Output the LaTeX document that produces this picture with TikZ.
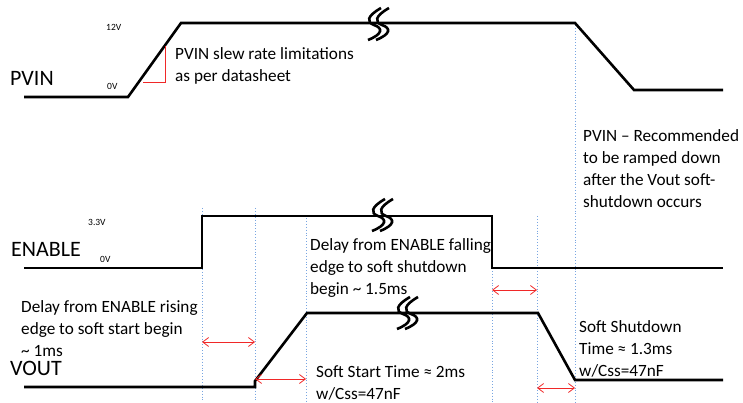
\documentclass[tikz,border=0pt]{standalone}
\usepackage{fontspec}
\setmainfont{Carlito}
\usetikzlibrary{arrows.meta}
\definecolor{guideblue}{RGB}{120,165,225}
\definecolor{dimred}{RGB}{240,40,40}
\begin{document}
\begin{tikzpicture}[x=1pt,y=-1pt,
  wave/.style={line width=2.6pt, line join=miter},
  guide/.style={draw=guideblue, dotted, line width=0.9pt},
  dim/.style={draw=dimred, line width=0.8pt, {Straight Barb[length=6pt,width=9pt]}-{Straight Barb[length=6pt,width=9pt]}},
  note/.style={anchor=north west, inner sep=0pt, align=left, font=\fontsize{17.2}{22}\selectfont},
  sig/.style={anchor=north west, inner sep=0pt, font=\fontsize{22}{25}\selectfont},
  lvl/.style={anchor=north west, inner sep=0pt, font=\fontsize{9.5}{11}\selectfont},
  brkpic/.pic={
    \draw[line width=2.6pt] (4,-16) .. controls (-10,-8) and (-11,-2) .. (-3,1) .. controls (6,4) and (6,10) .. (-9,16);
    \draw[line width=2.6pt] (12,-16) .. controls (-2,-8) and (-3,-2) .. (5,1) .. controls (14,4) and (14,10) .. (-1,16);
  }]
\useasboundingbox (0,0) rectangle (743,403);

% guide lines (behind)
\coordinate (g1t) at (202,208); \coordinate (g1b) at (202,400);
\coordinate (g2t) at (255,208); \coordinate (g2b) at (255,400);
\coordinate (g3t) at (306,218); \coordinate (g3b) at (306,403);
\coordinate (g4t) at (492,268); \coordinate (g4b) at (492,403);
\coordinate (g5t) at (537,216); \coordinate (g5b) at (537,403);
\coordinate (g6t) at (575,25);  \coordinate (g6b) at (575,403);
\draw[guide] (g1t) -- (g1b);
\draw[guide] (g2t) -- (g2b);
\draw[guide] (g3t) -- (g3b);
\draw[guide] (g4t) -- (g4b);
\draw[guide] (g5t) -- (g5b);
\draw[guide] (g6t) -- (g6b);

% PVIN waveform
\coordinate (p0) at (24,97);
\coordinate (p1) at (128,97);
\coordinate (p2) at (181,23);
\coordinate (p3) at (575,23);
\coordinate (p4) at (634,90);
\coordinate (p5) at (723,90);
\draw[wave] (p0) -- (p1) -- (p2) -- (p3) -- (p4) -- (p5);
\pic at (377,24) {brkpic};

% slew-rate marker
\coordinate (r1) at (165.5,46);
\coordinate (r2) at (165.5,82);
\coordinate (r3) at (143,82);
\draw[dimred, line width=0.9pt] (r1) -- (r2) -- (r3);

% ENABLE waveform
\coordinate (e0) at (24,268);
\coordinate (e1) at (202,268);
\coordinate (e2) at (202,216);
\coordinate (e3) at (492,216);
\coordinate (e4) at (492,268);
\coordinate (e5) at (723,268);
\draw[wave] (e0) -- (e1) -- (e2) -- (e3) -- (e4) -- (e5);
\pic at (381,215) {brkpic};

% VOUT waveform
\coordinate (v0) at (24,387);
\coordinate (v1) at (255,387);
\coordinate (v2) at (255,381);
\coordinate (v3) at (307,313);
\coordinate (v4) at (538,313);
\coordinate (v5) at (575,380);
\coordinate (v6) at (723,380);
\draw[wave] (v0) -- (v1) -- (v2) -- (v3) -- (v4) -- (v5) -- (v6);
\pic at (406,313) {brkpic};

% dimension arrows
\coordinate (a1l) at (202,342); \coordinate (a1r) at (255,342);
\coordinate (a2l) at (255,379); \coordinate (a2r) at (306,379);
\coordinate (a3l) at (492,290); \coordinate (a3r) at (537,290);
\coordinate (a4l) at (537,388); \coordinate (a4r) at (575,388);
\draw[dim] (a1l) -- (a1r);
\draw[dim] (a2l) -- (a2r);
\draw[dim] (a3l) -- (a3r);
\draw[dim] (a4l) -- (a4r);

% signal labels
\node[sig] (lpvin) at (10,71) {PVIN};
\node[sig] (lena) at (11,242) {ENABLE};
\node[sig] (lvout) at (10,361) {VOUT};

% level labels
\node[lvl] (l12) at (106,24) {12V};
\node[lvl] (l0a) at (107,83) {0V};
\node[lvl] (l33) at (88,219) {3.3V};
\node[lvl] (l0b) at (100,256) {0V};

% notes
\node[note] (n1) at (175,47) {PVIN slew rate limitations\\as per datasheet};
\node[note] (n2) at (583,129) {PVIN -- Recommended\\to be ramped down\\after the Vout soft-\\shutdown occurs};
\node[note] (n3) at (310,238) {Delay from ENABLE falling\\edge to soft shutdown\\begin \char"7E{} 1.5ms};
\node[note] (n4) at (21,300) {Delay from ENABLE rising\\edge to soft start begin\\\char"7E{} 1ms};
\node[note] (n5) at (316,365) {Soft Start Time ≈ 2ms\\w/Css=47nF};
\node[note] (n6) at (579,320) {Soft Shutdown\\Time ≈ 1.3ms\\w/Css=47nF};
\end{tikzpicture}
\end{document}
